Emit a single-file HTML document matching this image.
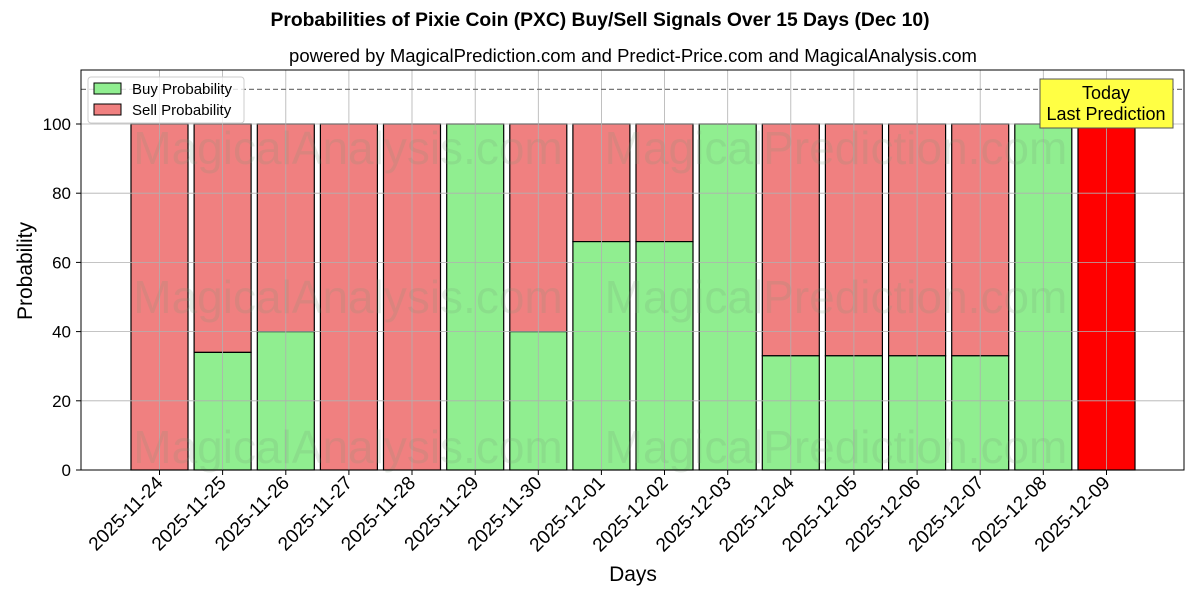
<!DOCTYPE html>
<html><head><style>body{margin:0;background:#fff}svg{display:block;font-family:"Liberation Sans","DejaVu Sans",sans-serif}</style></head><body>
<svg width="1200" height="600" viewBox="0 0 1200 600" xmlns="http://www.w3.org/2000/svg">
<text x="600" y="26" text-anchor="middle" font-size="19.3" font-weight="bold">Probabilities of Pixie Coin (PXC) Buy/Sell Signals Over 15 Days (Dec 10)</text>
<text x="633" y="62" text-anchor="middle" font-size="18.5">powered by MagicalPrediction.com and Predict-Price.com and MagicalAnalysis.com</text>
<g id="bars" stroke="#000" stroke-width="1.2">
<rect x="131" y="124" width="57" height="346" fill="#f08080"/>
<rect x="194.1" y="124" width="57" height="228.4" fill="#f08080"/><rect x="194.1" y="352.4" width="57" height="117.6" fill="#90ee90"/>
<rect x="257.3" y="124" width="57" height="207.6" fill="#f08080"/><rect x="257.3" y="331.6" width="57" height="138.4" fill="#90ee90"/>
<rect x="320.4" y="124" width="57" height="346" fill="#f08080"/>
<rect x="383.5" y="124" width="57" height="346" fill="#f08080"/>
<rect x="446.7" y="124" width="57" height="346" fill="#90ee90"/>
<rect x="509.8" y="124" width="57" height="207.6" fill="#f08080"/><rect x="509.8" y="331.6" width="57" height="138.4" fill="#90ee90"/>
<rect x="572.9" y="124" width="57" height="117.6" fill="#f08080"/><rect x="572.9" y="241.6" width="57" height="228.4" fill="#90ee90"/>
<rect x="636" y="124" width="57" height="117.6" fill="#f08080"/><rect x="636" y="241.6" width="57" height="228.4" fill="#90ee90"/>
<rect x="699.2" y="124" width="57" height="346" fill="#90ee90"/>
<rect x="762.3" y="124" width="57" height="231.8" fill="#f08080"/><rect x="762.3" y="355.8" width="57" height="114.2" fill="#90ee90"/>
<rect x="825.4" y="124" width="57" height="231.8" fill="#f08080"/><rect x="825.4" y="355.8" width="57" height="114.2" fill="#90ee90"/>
<rect x="888.6" y="124" width="57" height="231.8" fill="#f08080"/><rect x="888.6" y="355.8" width="57" height="114.2" fill="#90ee90"/>
<rect x="951.7" y="124" width="57" height="231.8" fill="#f08080"/><rect x="951.7" y="355.8" width="57" height="114.2" fill="#90ee90"/>
<rect x="1014.8" y="124" width="57" height="346" fill="#90ee90"/>
<rect x="1078" y="124" width="57" height="346" fill="#ff0000"/>
</g>
<g stroke="#b0b0b0" stroke-width="0.8">
<line x1="81" x2="1184" y1="470" y2="470"/><line x1="81" x2="1184" y1="400.8" y2="400.8"/><line x1="81" x2="1184" y1="331.6" y2="331.6"/><line x1="81" x2="1184" y1="262.4" y2="262.4"/><line x1="81" x2="1184" y1="193.2" y2="193.2"/><line x1="81" x2="1184" y1="124" y2="124"/>
<line x1="159.5" x2="159.5" y1="70" y2="470"/><line x1="222.6" x2="222.6" y1="70" y2="470"/><line x1="285.8" x2="285.8" y1="70" y2="470"/><line x1="348.9" x2="348.9" y1="70" y2="470"/><line x1="412" x2="412" y1="70" y2="470"/><line x1="475.2" x2="475.2" y1="70" y2="470"/><line x1="538.3" x2="538.3" y1="70" y2="470"/><line x1="601.4" x2="601.4" y1="70" y2="470"/><line x1="664.5" x2="664.5" y1="70" y2="470"/><line x1="727.7" x2="727.7" y1="70" y2="470"/><line x1="790.8" x2="790.8" y1="70" y2="470"/><line x1="853.9" x2="853.9" y1="70" y2="470"/><line x1="917.1" x2="917.1" y1="70" y2="470"/><line x1="980.2" x2="980.2" y1="70" y2="470"/><line x1="1043.3" x2="1043.3" y1="70" y2="470"/><line x1="1106.5" x2="1106.5" y1="70" y2="470"/>
</g>
<g font-size="46" fill="#7a9a7a" opacity="0.18" text-anchor="middle">
<text x="348" y="164">MagicalAnalysis.com</text><text x="836" y="164">MagicalPrediction.com</text>
<text x="348" y="313">MagicalAnalysis.com</text><text x="836" y="313">MagicalPrediction.com</text>
<text x="348" y="463">MagicalAnalysis.com</text><text x="836" y="463">MagicalPrediction.com</text>
</g>
<line x1="81" x2="1184" y1="89.4" y2="89.4" stroke="#777" stroke-width="1.2" stroke-dasharray="5,3"/>
<rect x="81" y="70" width="1103" height="400" fill="none" stroke="#000" stroke-width="1"/>
<g stroke="#000"><line x1="76" x2="81" y1="470" y2="470"/><line x1="76" x2="81" y1="400.8" y2="400.8"/><line x1="76" x2="81" y1="331.6" y2="331.6"/><line x1="76" x2="81" y1="262.4" y2="262.4"/><line x1="76" x2="81" y1="193.2" y2="193.2"/><line x1="76" x2="81" y1="124" y2="124"/></g>
<g font-size="17" text-anchor="end"><text x="71" y="476">0</text><text x="71" y="406.8">20</text><text x="71" y="337.6">40</text><text x="71" y="268.4">60</text><text x="71" y="199.2">80</text><text x="71" y="130">100</text></g>
<text transform="translate(32,271) rotate(-90)" text-anchor="middle" font-size="21">Probability</text>
<text x="633" y="581" text-anchor="middle" font-size="21">Days</text>
<g font-size="19" text-anchor="end">
<text transform="translate(164,484) rotate(-45)">2025-11-24</text><text transform="translate(227.1,484) rotate(-45)">2025-11-25</text><text transform="translate(290.3,484) rotate(-45)">2025-11-26</text><text transform="translate(353.4,484) rotate(-45)">2025-11-27</text><text transform="translate(416.5,484) rotate(-45)">2025-11-28</text><text transform="translate(479.7,484) rotate(-45)">2025-11-29</text><text transform="translate(542.8,484) rotate(-45)">2025-11-30</text><text transform="translate(605.9,484) rotate(-45)">2025-12-01</text><text transform="translate(669,484) rotate(-45)">2025-12-02</text><text transform="translate(732.2,484) rotate(-45)">2025-12-03</text><text transform="translate(795.3,484) rotate(-45)">2025-12-04</text><text transform="translate(858.4,484) rotate(-45)">2025-12-05</text><text transform="translate(921.6,484) rotate(-45)">2025-12-06</text><text transform="translate(984.7,484) rotate(-45)">2025-12-07</text><text transform="translate(1047.8,484) rotate(-45)">2025-12-08</text><text transform="translate(1111,484) rotate(-45)">2025-12-09</text>
</g>
<g stroke="#000"><line x1="159.5" x2="159.5" y1="470" y2="475"/><line x1="222.6" x2="222.6" y1="470" y2="475"/><line x1="285.8" x2="285.8" y1="470" y2="475"/><line x1="348.9" x2="348.9" y1="470" y2="475"/><line x1="412" x2="412" y1="470" y2="475"/><line x1="475.2" x2="475.2" y1="470" y2="475"/><line x1="538.3" x2="538.3" y1="470" y2="475"/><line x1="601.4" x2="601.4" y1="470" y2="475"/><line x1="664.5" x2="664.5" y1="470" y2="475"/><line x1="727.7" x2="727.7" y1="470" y2="475"/><line x1="790.8" x2="790.8" y1="470" y2="475"/><line x1="853.9" x2="853.9" y1="470" y2="475"/><line x1="917.1" x2="917.1" y1="470" y2="475"/><line x1="980.2" x2="980.2" y1="470" y2="475"/><line x1="1043.3" x2="1043.3" y1="470" y2="475"/><line x1="1106.5" x2="1106.5" y1="470" y2="475"/></g>
<rect x="88" y="77" width="156" height="46" rx="3" fill="#fff" fill-opacity="0.8" stroke="#ccc"/>
<rect x="94" y="83" width="27" height="11" fill="#90ee90" stroke="#000"/><text x="132" y="94" font-size="15">Buy Probability</text>
<rect x="94" y="104" width="27" height="11" fill="#f08080" stroke="#000"/><text x="132" y="115" font-size="15">Sell Probability</text>
<rect x="1040" y="79" width="133" height="49" fill="#ffff44" stroke="#555"/>
<text x="1106" y="99" text-anchor="middle" font-size="18">Today</text>
<text x="1106" y="120" text-anchor="middle" font-size="18">Last Prediction</text>
</svg>
</body></html>
